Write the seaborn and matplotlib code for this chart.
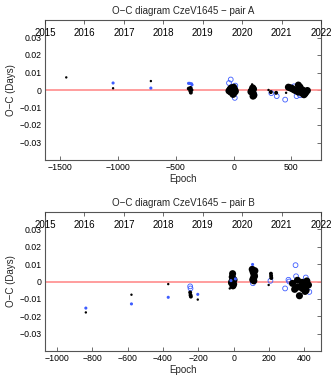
import matplotlib
matplotlib.use("Agg")
import matplotlib.pyplot as plt
import seaborn as sns
import pandas as pd
from matplotlib.ticker import FixedLocator, FuncFormatter

sns.set_style("white")
plt.rcParams['font.family'] = ['Liberation Sans', 'DejaVu Sans']
plt.rcParams['axes.unicode_minus'] = True

# ---------------- data: pair A ----------------
a_black_epoch = [-1448, -1043, -716, -388, -375, -370, -365, -372,
                 -40, -30, -20, -10, 0, 5, 10, -25, -5, 15, 0, -15,
                 150, 160, 170, 175, 165, 155, 168, 172, 160,
                 302, 322, 368, 454,
                 474, 490, 503, 515, 531, 545, 560, 574, 560, 589, 597, 609, 618, 626, 638, 600, 580]
a_black_oc = [0.0072, 0.0010, 0.0051, 0.0008, -0.0005, -0.0015, 0.0000, 0.0012,
              -0.0005, 0.0005, 0.0012, -0.0002, 0.0008, -0.0015, 0.0002, -0.0012, -0.0025, -0.0008, 0.0016, 0.0010,
              -0.0010, 0.0000, -0.0020, -0.0030, 0.0012, -0.0005, -0.0035, 0.0005, 0.0032,
              0.0000, -0.0012, -0.0016, -0.0016,
              0.0016, 0.0012, 0.0010, 0.0004, -0.0002, -0.0005, 0.0028, 0.0017, -0.0012, -0.0015, 0.0000, -0.0027, -0.0020, -0.0012, -0.0003, -0.0022, -0.0008]
a_black_size = [1, 1, 1, 2, 2, 2, 2, 2,
                3, 3, 3, 3, 3, 3, 3, 3, 3, 3, 3, 3,
                3, 3, 3, 3, 3, 3, 3, 3, 1,
                1, 2, 2, 1,
                3, 3, 3, 3, 3, 3, 3, 3, 3, 3, 3, 3, 3, 3, 3, 3, 3]
a_blue_epoch = [-1043, -716, -390, -380, -365, -360,
                -40, -25, -10, 5, 10, 15,
                170, 180, 326, 373, 446, 523, 545, 574]
a_blue_oc = [0.0040, 0.0011, 0.0038, 0.0038, 0.0036, 0.0030,
             0.0040, 0.0060, -0.0010, -0.0020, -0.0045, 0.0025,
             -0.0035, -0.0025, -0.0018, -0.0035, -0.0055, 0.0021, -0.0035, -0.0030]
a_blue_kind = ['dot', 'dot', 'dot', 'dot', 'dot', 'dot',
               'ring', 'ring', 'ring', 'ring', 'ring', 'ring',
               'ring', 'ring', 'ring', 'ring', 'ring', 'ring', 'ring', 'ring']

# ---------------- data: pair B ----------------
b_black_epoch = [-836, -578, -370, -246, -244, -242, -203,
                 -6, -8, -10, 0, -4, 2, -12, -22,
                 105, 110, 115, 118, 112, 108, 120, 114,
                 211, 212, 213, 198,
                 333, 361, 357, 375, 372, 388, 388, 404, 414, 423, 345, 395, 410]
b_black_oc = [-0.0178, -0.0076, -0.0015, -0.0063, -0.0078, -0.0087, -0.0104,
              0.0045, 0.0026, 0.0000, -0.0015, -0.0025, 0.0010, -0.0008, -0.0040,
              0.0070, 0.0055, 0.0040, 0.0030, 0.0020, 0.0010, 0.0062, 0.0004,
              0.0045, 0.0032, 0.0020, -0.0020,
              -0.0011, 0.0007, -0.0034, -0.0030, -0.0082, -0.0005, -0.0040, -0.0057, 0.0003, -0.0020, -0.0045, -0.0020, -0.0050]
b_black_size = [1, 1, 1, 2, 2, 2, 1,
                3, 3, 3, 3, 3, 3, 3, 1,
                3, 3, 3, 3, 3, 3, 3, 3,
                2, 2, 2, 1,
                3, 3, 3, 3, 3, 3, 3, 3, 3, 3, 3, 3, 3]
b_blue_epoch = [-836, -578, -370, -246, -244, -203,
                -15, 10, 107, 109,
                208, 291, 310, 314, 350, 353, 408, 428, 398]
b_blue_oc = [-0.0153, -0.0129, -0.0091, -0.0028, -0.0040, -0.0074,
             0.0005, 0.0015, 0.0098, -0.0010,
             0.0004, -0.0040, 0.0010, 0.0000, 0.0094, 0.0030, 0.0023, -0.0060, -0.0010]
b_blue_kind = ['dot', 'dot', 'dot', 'ring', 'ring', 'dot',
               'dot', 'dot', 'dot', 'ring',
               'ring', 'ring', 'ring', 'ring', 'ring', 'ring', 'ring', 'ring', 'ring']

years = [2015, 2016, 2017, 2018, 2019, 2020, 2021, 2022]
y_ticks = [-0.03, -0.02, -0.01, 0, 0.01, 0.02, 0.03]
titles = ["O\u2212C diagram CzeV1645 \u2212 pair A", "O\u2212C diagram CzeV1645 \u2212 pair B"]

FS = 6.3
BLUE = '#3d5cff'
SIZES = {1: 3, 2: 8, 3: 26}

fig = plt.figure(figsize=(3.32, 3.78), dpi=100)
ax_pos = [[45/332, (378-160)/378, 276/332, 140/378],
          [45/332, (378-351)/378, 276/332, 139/378]]
panels = [
    (a_black_epoch, a_black_oc, a_black_size, a_blue_epoch, a_blue_oc, a_blue_kind,
     (-1632, 756), [-1500, -1000, -500, 0, 500]),
    (b_black_epoch, b_black_oc, b_black_size, b_blue_epoch, b_blue_oc, b_blue_kind,
     (-1067, 494), [-1000, -800, -600, -400, -200, 0, 200, 400]),
]

def fmt_num(v, pos=None):
    if abs(v) < 1e-12:
        return "0"
    s = ("%g" % v)
    return s.replace("-", "\u2212")

for i, (be, bo, bs, ue, uo, uk, xl, xt) in enumerate(panels):
    ax = fig.add_axes(ax_pos[i])
    ax.axhline(0, color='#ff8c8c', lw=1.2, zorder=1)
    dfk = pd.DataFrame({'epoch': be, 'oc': bo, 'sz': bs})
    dfu = pd.DataFrame({'epoch': ue, 'oc': uo, 'kind': uk})
    rings = dfu[dfu['kind'] == 'ring']
    dots = dfu[dfu['kind'] == 'dot']
    sns.scatterplot(data=rings, x='epoch', y='oc', ax=ax, s=12, marker='o',
                    facecolors='none', edgecolor=BLUE, linewidth=0.6, zorder=2, legend=False)
    sns.scatterplot(data=dfk, x='epoch', y='oc', size='sz', sizes=SIZES, ax=ax,
                    color='black', edgecolor='none', linewidth=0, zorder=3, legend=False)
    sns.scatterplot(data=dots, x='epoch', y='oc', ax=ax, s=5, color=BLUE,
                    edgecolor='none', linewidth=0, zorder=4, legend=False)
    ax.set_xlim(*xl)
    ax.set_ylim(-0.04, 0.04)
    ax.xaxis.set_major_locator(FixedLocator(xt))
    ax.yaxis.set_major_locator(FixedLocator(y_ticks))
    ax.xaxis.set_major_formatter(FuncFormatter(fmt_num))
    ax.yaxis.set_major_formatter(FuncFormatter(fmt_num))
    ax.tick_params(direction='in', length=3, width=0.5, labelsize=FS, pad=2.5,
                   right=True, top=False, colors='#333333', labelcolor='black')
    for sp in ax.spines.values():
        sp.set_color('#555555')
        sp.set_linewidth(0.8)
    ax.set_xlabel("Epoch", fontsize=FS + 0.7, labelpad=1)
    ax.set_ylabel("O\u2212C (Days)", fontsize=FS + 0.7, labelpad=2)
    ax.set_title(titles[i], fontsize=FS + 0.7, y=1.0, pad=4)
    ay = ax.twiny()
    ay.set_xlim(2015, 2022)
    ay.xaxis.set_major_locator(FixedLocator(years))
    ay.tick_params(axis='x', direction='in', length=3, width=0.5, labelsize=FS + 0.7,
                   pad=-13, colors='#333333', labelcolor='black')
    for sp in ay.spines.values():
        sp.set_visible(False)

fig.savefig("out.png", dpi=100)
